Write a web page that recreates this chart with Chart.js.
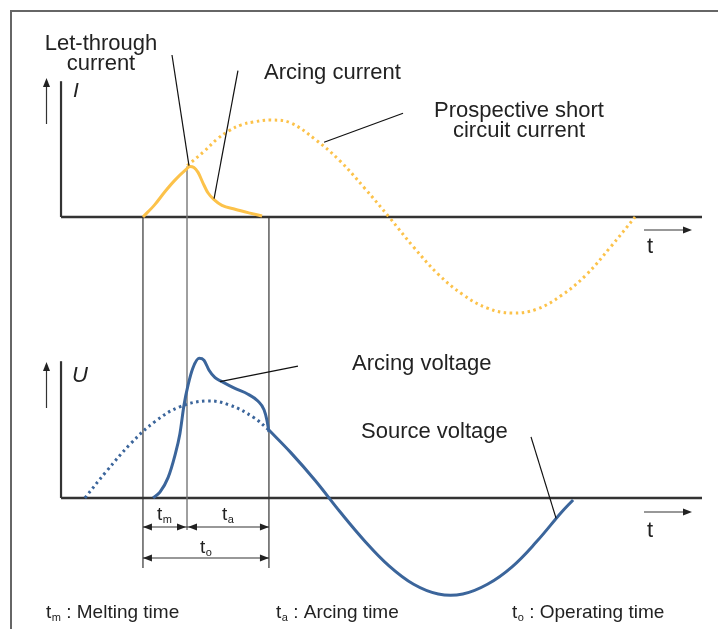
<!DOCTYPE html>
<html>
<head>
<meta charset="utf-8">
<script src="https://cdn.jsdelivr.net/npm/chart.js@4/dist/chart.umd.min.js"></script>
<style>
  html, body { margin: 0; padding: 0; background: #fff; }
  canvas { display: block; }
</style>
</head>
<body>
<canvas id="chartFusivel" width="718" height="629"></canvas>
<script>
// tempo em ms (meio ciclo ~10 ms), I e U normalizados pela amplitude
const tempos = [0, 1.79, 5.12]; // inicio, fim da fusao, fim da operacao

// corrente presumida (pontilhada)
const presumidaT = [1.8, 2.5, 3, 3.5, 4, 4.5, 5.2, 6, 7, 8, 9, 10, 11, 12, 13, 14, 15, 16, 17, 18, 19, 20];
const presumidaI = [0.53, 0.68, 0.8, 0.89, 0.95, 0.98, 1.0, 0.97, 0.8, 0.58, 0.3, 0, -0.31, -0.59, -0.8, -0.94, -0.99, -0.95, -0.81, -0.6, -0.31, 0];

// corrente de passagem (solida)
const passagemT = [0, 0.49, 0.89, 1.3, 1.71, 1.91, 2.07, 2.24, 2.44, 2.64, 2.89, 3.21, 3.74, 4.35, 4.84];
const passagemI = [0, 0.13, 0.26, 0.38, 0.48, 0.52, 0.51, 0.46, 0.35, 0.25, 0.18, 0.12, 0.08, 0.04, 0.01];

// tensao da fonte: parte pontilhada e parte solida
const fonteT1 = [-2.36, -1.5, -0.5, 0.5, 1.5, 2.6, 3.5, 4.5, 5.12];
const fonteU1 = [0, 0.27, 0.56, 0.79, 0.94, 1.0, 0.96, 0.83, 0.7];
const fonteT2 = [5.12, 6, 7, 8, 9, 10, 11, 12, 13, 14, 15, 16, 17, 17.48];
const fonteU2 = [0.7, 0.47, 0.18, -0.14, -0.44, -0.7, -0.89, -0.99, -0.99, -0.89, -0.71, -0.45, -0.15, -0.02];

// tensao de arco
const arcoT = [0.41, 0.69, 1.02, 1.3, 1.5, 1.67, 1.83, 2.03, 2.28, 2.48, 2.68, 2.93, 3.21, 3.74, 4.27, 4.67, 4.92, 5.04, 5.12];
const arcoU = [0, 0.06, 0.21, 0.44, 0.66, 0.96, 1.16, 1.34, 1.44, 1.42, 1.32, 1.24, 1.2, 1.13, 1.07, 1.0, 0.91, 0.8, 0.68];

const LARANJA = "#fcc24a";
const AZUL = "#3b659b";
const TEXTO = "#222";
const FONTE = '"Liberation Sans", Arial, sans-serif';

function pontos(ts, vs) {
  return ts.map((t, i) => ({ x: t, y: vs[i] }));
}

function linha(ctx, x1, y1, x2, y2, cor, larg) {
  ctx.beginPath();
  ctx.moveTo(x1, y1);
  ctx.lineTo(x2, y2);
  ctx.strokeStyle = cor;
  ctx.lineWidth = larg;
  ctx.stroke();
}

function ponta(ctx, x, y, dir, cor) {
  // dir: 1 = direita, -1 = esquerda, 0 = cima
  ctx.beginPath();
  if (dir === 0) {
    ctx.moveTo(x, y);
    ctx.lineTo(x - 3.5, y + 9);
    ctx.lineTo(x + 3.5, y + 9);
  } else {
    ctx.moveTo(x, y);
    ctx.lineTo(x - dir * 9, y - 3.5);
    ctx.lineTo(x - dir * 9, y + 3.5);
  }
  ctx.closePath();
  ctx.fillStyle = cor;
  ctx.fill();
}

function texto(ctx, s, x, y, tam, align, estilo) {
  ctx.font = (estilo || "") + " " + tam + "px " + FONTE;
  ctx.fillStyle = TEXTO;
  ctx.textAlign = align || "left";
  ctx.textBaseline = "alphabetic";
  ctx.fillText(s, x, y);
}

function subscrito(ctx, base, sub, resto, x, y, tam) {
  ctx.font = tam + "px " + FONTE;
  ctx.fillStyle = TEXTO;
  ctx.textAlign = "left";
  ctx.textBaseline = "alphabetic";
  ctx.fillText(base, x, y);
  let w = ctx.measureText(base).width;
  ctx.font = Math.round(tam * 0.58) + "px " + FONTE;
  ctx.fillText(sub, x + w + 0.5, y + 3);
  w += ctx.measureText(sub).width + 0.5;
  if (resto) {
    ctx.font = tam + "px " + FONTE;
    ctx.fillText(resto, x + w, y);
  }
}

const diagrama = {
  id: "diagrama",
  beforeDatasetsDraw(chart) {
    const { ctx, scales } = chart;
    const x = scales.x, yI = scales.yI, yU = scales.yU;
    ctx.save();
    ctx.lineCap = "butt";

    // moldura
    ctx.beginPath();
    ctx.moveTo(11, 629);
    ctx.lineTo(11, 11);
    ctx.lineTo(718, 11);
    ctx.strokeStyle = "#666";
    ctx.lineWidth = 2;
    ctx.stroke();

    const xEixo = x.getPixelForValue(-3.33);
    const xFim = x.getPixelForValue(22.72);
    const zI = yI.getPixelForValue(0);
    const zU = yU.getPixelForValue(0);

    // eixos
    linha(ctx, xEixo, yI.getPixelForValue(1.4), xEixo, zI, "#333", 2.2);
    linha(ctx, xEixo, zI, xFim, zI, "#333", 2.6);
    linha(ctx, xEixo, yU.getPixelForValue(1.41), xEixo, zU, "#333", 2.2);
    linha(ctx, xEixo, zU, xFim, zU, "#333", 2.6);

    // setas dos eixos
    linha(ctx, 46.5, 124, 46.5, 84, "#333", 1.2);
    ponta(ctx, 46.5, 78, 0, "#222");
    linha(ctx, 46.5, 408, 46.5, 368, "#333", 1.2);
    ponta(ctx, 46.5, 362, 0, "#222");
    linha(ctx, 644, 230, 686, 230, "#333", 1.2);
    ponta(ctx, 692, 230, 1, "#222");
    linha(ctx, 644, 512, 686, 512, "#333", 1.2);
    ponta(ctx, 692, 512, 1, "#222");

    // linhas verticais de tempo
    const xs = tempos.map((t) => x.getPixelForValue(t));
    const yDim1 = 527, yDim2 = 558;
    linha(ctx, xs[0], zI, xs[0], 568, "#333", 1.2);
    linha(ctx, xs[1], yI.getPixelForValue(0.52), xs[1], yDim1 + 3, "#777", 1.4);
    linha(ctx, xs[2], zI, xs[2], 568, "#333", 1.2);

    // cotas tm, ta, to
    linha(ctx, xs[0], yDim1, xs[1], yDim1, "#333", 1.2);
    ponta(ctx, xs[0], yDim1, -1, "#222");
    ponta(ctx, xs[1] - 1, yDim1, 1, "#222");
    linha(ctx, xs[1], yDim1, xs[2], yDim1, "#333", 1.2);
    ponta(ctx, xs[1] + 1, yDim1, -1, "#222");
    ponta(ctx, xs[2], yDim1, 1, "#222");
    linha(ctx, xs[0], yDim2, xs[2], yDim2, "#333", 1.2);
    ponta(ctx, xs[0], yDim2, -1, "#222");
    ponta(ctx, xs[2], yDim2, 1, "#222");

    subscrito(ctx, "t", "m", "", (xs[0] + xs[1]) / 2 - 8, 520, 19);
    subscrito(ctx, "t", "a", "", (xs[1] + xs[2]) / 2 - 6, 520, 19);
    subscrito(ctx, "t", "o", "", (xs[0] + xs[2]) / 2 - 6, 553, 19);
    ctx.restore();
  },
  afterDatasetsDraw(chart) {
    const { ctx, scales } = chart;
    const x = scales.x, yI = scales.yI, yU = scales.yU;
    ctx.save();

    // linhas de chamada
    const chamadaI = [
      [1.18, 1.67, 1.87, 0.53],
      [3.86, 1.51, 2.89, 0.19],
      [10.57, 1.07, 7.36, 0.77],
    ];
    chamadaI.forEach((c) =>
      linha(ctx, x.getPixelForValue(c[0]), yI.getPixelForValue(c[1]),
        x.getPixelForValue(c[2]), yI.getPixelForValue(c[3]), "#111", 1.2)
    );
    const chamadaU = [
      [6.3, 1.36, 3.13, 1.2],
      [15.77, 0.63, 16.79, -0.21],
    ];
    chamadaU.forEach((c) =>
      linha(ctx, x.getPixelForValue(c[0]), yU.getPixelForValue(c[1]),
        x.getPixelForValue(c[2]), yU.getPixelForValue(c[3]), "#111", 1.2)
    );

    // textos
    texto(ctx, "Let-through", 101, 49.5, 22, "center");
    texto(ctx, "current", 101, 69.5, 22, "center");
    texto(ctx, "Arcing current", 264, 79, 22);
    texto(ctx, "Prospective short", 519, 117, 22, "center");
    texto(ctx, "circuit current", 519, 137, 22, "center");
    texto(ctx, "Arcing voltage", 352, 370, 22);
    texto(ctx, "Source voltage", 361, 438, 22);
    texto(ctx, "I", 73, 97, 21, "left", "italic");
    texto(ctx, "U", 72, 382, 22, "left", "italic");
    texto(ctx, "t", 647, 253, 22);
    texto(ctx, "t", 647, 537, 22);

    subscrito(ctx, "t", "m", " : Melting time", 46, 618, 19);
    subscrito(ctx, "t", "a", " : Arcing time", 276, 618, 19);
    subscrito(ctx, "t", "o", " : Operating time", 512, 618, 19);
    ctx.restore();
  },
};

const canvas = document.getElementById("chartFusivel");

new Chart(canvas, {
  type: "scatter",
  data: {
    datasets: [
      {
        label: "Prospective short circuit current",
        data: pontos(presumidaT, presumidaI),
        yAxisID: "yI",
        showLine: true,
        borderColor: LARANJA,
        borderWidth: 3,
        borderDash: [2.5, 3.5],
        tension: 0.4,
        pointRadius: 0,
      },
      {
        label: "Let-through current",
        data: pontos(passagemT, passagemI),
        yAxisID: "yI",
        showLine: true,
        borderColor: LARANJA,
        borderWidth: 3,
        cubicInterpolationMode: "monotone",
        pointRadius: 0,
      },
      {
        label: "Source voltage (prospective)",
        data: pontos(fonteT1, fonteU1),
        yAxisID: "yU",
        showLine: true,
        borderColor: AZUL,
        borderWidth: 3,
        borderDash: [2.5, 3.5],
        tension: 0.4,
        pointRadius: 0,
      },
      {
        label: "Source voltage",
        data: pontos(fonteT2, fonteU2),
        yAxisID: "yU",
        showLine: true,
        borderColor: AZUL,
        borderWidth: 3,
        tension: 0.4,
        pointRadius: 0,
      },
      {
        label: "Arcing voltage",
        data: pontos(arcoT, arcoU),
        yAxisID: "yU",
        showLine: true,
        borderColor: AZUL,
        borderWidth: 3,
        cubicInterpolationMode: "monotone",
        pointRadius: 0,
      },
    ],
  },
  options: {
    responsive: false,
    devicePixelRatio: 1,
    animation: false,
    layout: { padding: 0 },
    scales: {
      x: { type: "linear", display: false, min: -5.81, max: 23.37 },
      yI: { type: "linear", position: "left", display: false, min: -4.247, max: 2.237 },
      yU: { type: "linear", position: "left", display: false, min: -1.351, max: 5.134 },
    },
    plugins: {
      legend: { display: false },
      tooltip: { enabled: false },
    },
  },
  plugins: [diagrama],
});
</script>
</body>
</html>
